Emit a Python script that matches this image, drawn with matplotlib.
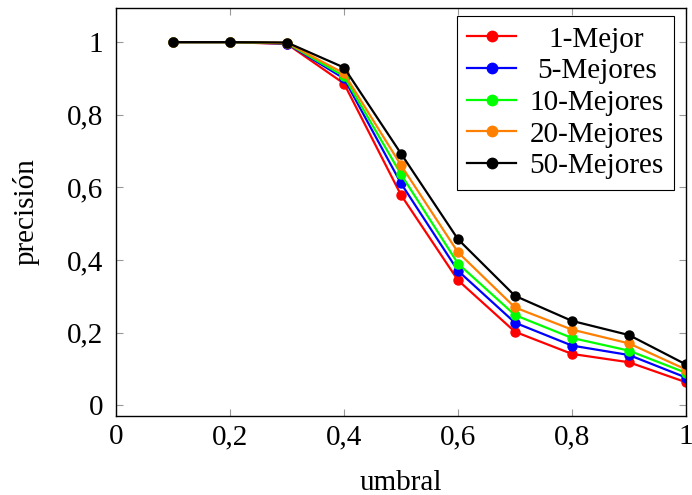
import numpy as np
import matplotlib.pyplot as plt
from matplotlib.ticker import FuncFormatter

plt.rcParams['font.family'] = ['Liberation Serif', 'DejaVu Serif']

# umbral values and precision of each series
umbral = [0.1, 0.2, 0.3, 0.4, 0.5, 0.6, 0.7, 0.8, 0.9, 1.0]
mejor1 = [1.0, 1.0, 0.995, 0.886, 0.579, 0.344, 0.202, 0.141, 0.118, 0.063]
mejores5 = [1.0, 1.0, 0.996, 0.900, 0.611, 0.370, 0.227, 0.164, 0.138, 0.076]
mejores10 = [1.0, 1.0, 0.997, 0.906, 0.636, 0.390, 0.248, 0.185, 0.150, 0.089]
mejores20 = [1.0, 1.0, 0.998, 0.914, 0.661, 0.421, 0.269, 0.208, 0.170, 0.098]
mejores50 = [1.0, 1.0, 0.999, 0.930, 0.693, 0.457, 0.301, 0.232, 0.193, 0.112]

labels = ['1-Mejor', '5-Mejores', '10-Mejores', '20-Mejores', '50-Mejores']
colors = ['#ff0000', '#0000ff', '#00ff00', '#ff8000', '#000000']
series = [mejor1, mejores5, mejores10, mejores20, mejores50]

fs = 21
fig = plt.figure(figsize=(6.92, 4.95), dpi=100)
ax = fig.add_axes([0.1676, 0.1596, 0.8237, 0.8242])

for vals, lab, col in zip(series, labels, colors):
    ax.plot(umbral, vals, '-o', color=col, label=lab, lw=1.6, ms=6.5)

ax.set_xlim(0, 1)
ax.set_ylim(-0.03, 1.094)
ax.set_xticks([0, 0.2, 0.4, 0.6, 0.8, 1])
ax.set_yticks([0, 0.2, 0.4, 0.6, 0.8, 1])
fmt = FuncFormatter(lambda v, p: ('%g' % round(v, 2)).replace('.', ','))
ax.xaxis.set_major_formatter(fmt)
ax.yaxis.set_major_formatter(fmt)
ax.tick_params(direction='in', length=5, color='#999999', width=0.8,
               top=True, right=True, labelsize=fs)
ax.tick_params(axis='x', pad=6)
ax.tick_params(axis='y', pad=9)
for s in ax.spines.values():
    s.set_linewidth(1.0)

ax.set_xlabel('umbral', fontsize=fs, labelpad=14)
ax.set_ylabel('precisión', fontsize=fs, labelpad=20)

leg = ax.legend(loc='upper right', bbox_to_anchor=(674 / 692, 1 - 16 / 495),
                bbox_transform=fig.transFigure, borderaxespad=0,
                fontsize=fs, fancybox=False, framealpha=1,
                edgecolor='black', handlelength=1.7, borderpad=0.35,
                labelspacing=0.18, handletextpad=0.45, markerscale=1.15)
leg.get_frame().set_linewidth(0.8)

# center the legend labels like the original
fig.canvas.draw()
r = fig.canvas.get_renderer()
texts = leg.get_texts()
widths = [t.get_window_extent(r).width for t in texts]
wmax = max(widths)
for t, w in zip(texts, widths):
    t.set_x((wmax - w) / 2)

fig.savefig('out.png', dpi=100)
